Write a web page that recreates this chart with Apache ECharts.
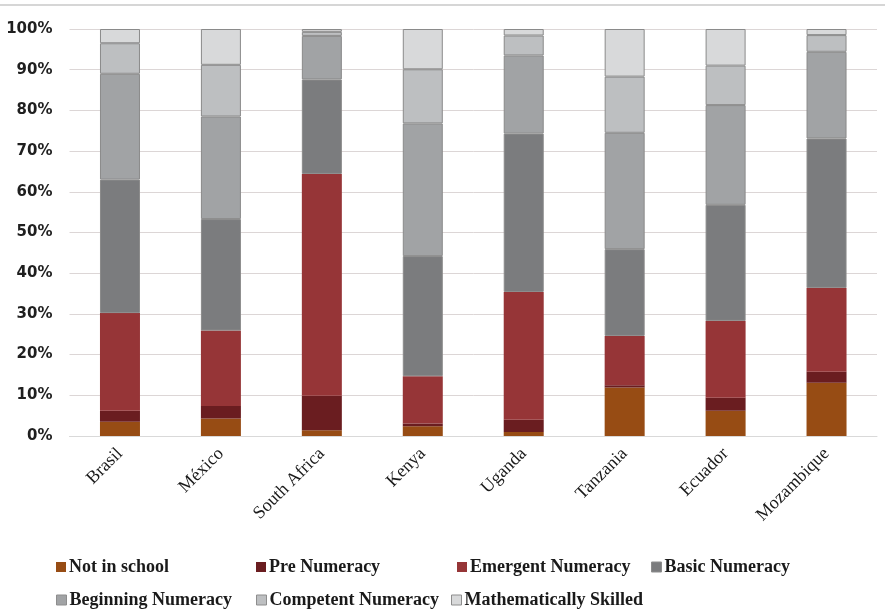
<!DOCTYPE html>
<html>
<head>
<meta charset="utf-8">
<title>Numeracy levels by country</title>
<script src="https://cdn.jsdelivr.net/npm/echarts@6/dist/echarts.min.js"></script>
<style>
  html, body { margin: 0; padding: 0; background: #ffffff; }
  #chart { width: 885px; height: 612px; }
</style>
</head>
<body>
<div id="chart"></div>
<script>
// Countries along the x axis
const countries = ['Brasil', 'México', 'South Africa', 'Kenya', 'Uganda', 'Tanzania', 'Ecuador', 'Mozambique'];

// Share of children (%) at each numeracy level, per country
const notInSchool       = [3.5, 4.3, 1.4, 2.4, 1.0, 11.9, 6.2, 13.1];
const preNumeracy       = [2.7, 3.1, 8.5, 0.7, 3.0, 0.6, 3.2, 2.7];
const emergentNumeracy  = [24.0, 18.5, 54.5, 11.6, 31.4, 12.1, 18.9, 20.6];
const basicNumeracy     = [32.8, 27.4, 23.2, 29.5, 38.9, 21.3, 28.5, 36.7];
const beginningNumeracy = [26.0, 25.2, 10.7, 32.6, 19.2, 28.6, 24.5, 21.3];
const competentNumeracy = [7.5, 12.7, 1.0, 13.3, 4.9, 13.8, 9.7, 4.1];
const mathSkilled       = [3.5, 8.8, 0.7, 9.9, 1.6, 11.7, 9.0, 1.5];

// Y axis ticks
const yTicks = [0, 10, 20, 30, 40, 50, 60, 70, 80, 90, 100];

const levels = [
  { name: 'Not in school',           data: notInSchool,       color: '#974c14', border: false },
  { name: 'Pre Numeracy',            data: preNumeracy,       color: '#6a1d20', border: false },
  { name: 'Emergent Numeracy',       data: emergentNumeracy,  color: '#963537', border: false },
  { name: 'Basic Numeracy',          data: basicNumeracy,     color: '#7b7c7e', border: true },
  { name: 'Beginning Numeracy',      data: beginningNumeracy, color: '#a1a3a5', border: true },
  { name: 'Competent Numeracy',      data: competentNumeracy, color: '#bdbfc1', border: true },
  { name: 'Mathematically Skilled',  data: mathSkilled,       color: '#d8d9da', border: true }
];

const serifFont = '"Liberation Serif", "DejaVu Serif", serif';

// One legend entry per level, laid out in two rows
const legendSpots = [
  { left: 56,  top: 558 },
  { left: 256, top: 558 },
  { left: 457, top: 558 },
  { left: 651, top: 558 },
  { left: 56,  top: 591 },
  { left: 256, top: 591 },
  { left: 451, top: 591 }
];

const legends = levels.map((lv, i) => ({
  data: [lv.name],
  left: legendSpots[i].left,
  top: legendSpots[i].top,
  orient: 'horizontal',
  itemWidth: 10,
  itemHeight: 10,
  itemGap: 0,
  icon: 'rect',
  padding: 0,
  selectedMode: false,
  itemStyle: { borderColor: '#8d8d8d', borderWidth: lv.border ? 1 : 0 },
  textStyle: {
    fontFamily: serifFont,
    fontWeight: 'bold',
    fontSize: 18,
    color: '#1a1a1a',
    padding: [0, 0, 0, -2]
  }
}));

const chart = echarts.init(document.getElementById('chart'), null, { renderer: 'canvas' });

chart.setOption({
  animation: false,
  backgroundColor: '#ffffff',
  graphic: [{
    type: 'line',
    shape: { x1: 0, y1: 5, x2: 885, y2: 5 },
    style: { stroke: '#d6d6d6', lineWidth: 2 }
  }],
  grid: { left: 69.5, right: 8, top: 29, bottom: 176, containLabel: false },
  legend: legends,
  xAxis: {
    type: 'category',
    data: countries,
    axisLine: { show: true, lineStyle: { color: '#d9d9d9', width: 1 } },
    axisTick: { show: false },
    axisLabel: {
      rotate: 45,
      interval: 0,
      margin: 15,
      fontFamily: serifFont,
      fontSize: 18,
      color: '#1a1a1a'
    }
  },
  yAxis: {
    type: 'value',
    min: yTicks[0],
    max: yTicks[yTicks.length - 1],
    interval: 10,
    axisLine: { show: false },
    axisTick: { show: false },
    splitLine: { lineStyle: { color: '#dcd6d6', width: 1 } },
    axisLabel: {
      formatter: v => v + '%',
      margin: 17,
      fontFamily: '"DejaVu Sans", "Open Sans", sans-serif',
      fontWeight: 'bold',
      fontSize: 15,
      color: '#1f1f1f'
    }
  },
  series: levels.map(lv => ({
    name: lv.name,
    type: 'bar',
    stack: 'share',
    data: lv.data,
    barWidth: 40,
    itemStyle: {
      color: lv.color,
      borderColor: lv.border ? '#8a8a8a' : lv.color,
      borderWidth: lv.border ? 1 : 0
    }
  }))
});
</script>
</body>
</html>
